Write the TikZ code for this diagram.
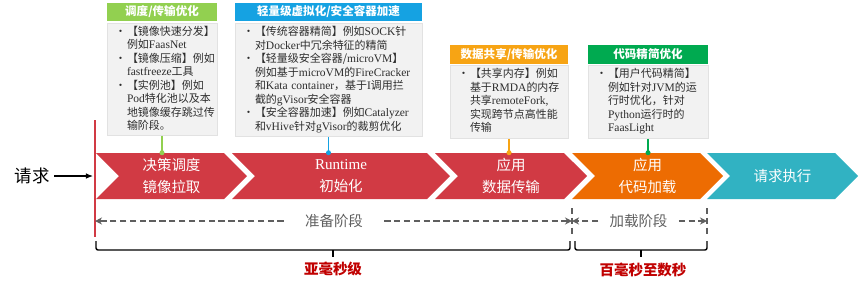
\documentclass[tikz,border=0pt]{standalone}
\usepackage{fontspec}
\setmainfont{Noto Sans CJK SC}
\newfontfamily\latinfont[Scale=1.05]{Liberation Serif}
\newcommand\en[1]{{\latinfont #1}}
\usepackage{xcolor}
\usepackage{tikz}
\usetikzlibrary{arrows.meta,positioning,shapes.symbols}
\newlength\pxu
\setlength\pxu{0.025cm}
\definecolor{ink}{RGB}{45,45,45}
\definecolor{stagered}{RGB}{209,58,68}
\definecolor{stageorange}{RGB}{237,108,2}
\definecolor{stageteal}{RGB}{49,178,194}
\definecolor{hgreen}{RGB}{146,208,80}
\definecolor{hblue}{RGB}{21,162,226}
\definecolor{horange}{RGB}{247,164,20}
\definecolor{hdkgreen}{RGB}{0,170,80}
\definecolor{cardgray}{RGB}{242,242,242}
\definecolor{cardedge}{RGB}{226,226,226}
\definecolor{phasegray}{RGB}{95,95,95}
\definecolor{spanred}{RGB}{192,0,0}
\tikzset{
  stage/.style={signal,signal to=east,signal from=west,signal pointer angle=90,
    minimum height=46\pxu,inner sep=0pt,text=white,align=center,
    font=\fontsize{10.3}{15.6}\selectfont},
  head/.style={minimum height=18\pxu,inner sep=0pt,text=white,
    font=\fontsize{8.2}{10}\selectfont\bfseries},
  card/.style={fill=cardgray,draw=cardedge,inner xsep=5\pxu,inner ysep=0pt,
    align=left,text=ink,font=\fontsize{7.8}{9.6}\selectfont},
  link/.style={line width=1.1pt},
  pin/.style={circle,inner sep=0pt,minimum size=5\pxu},
  phase/.style={phasegray,line width=0.9pt,dash pattern=on 4.5pt off 2.5pt},
  phaseend/.style={phase,-{Stealth[length=5pt,width=5pt]}},
  phaselabel/.style={text=phasegray,inner ysep=0pt,font=\fontsize{10.3}{12}\selectfont},
  span/.style={line width=1pt,rounded corners=1.5pt},
  spanlabel/.style={text=spanred,font=\fontsize{10.3}{12}\selectfont\bfseries}
}

\begin{document}
\begin{tikzpicture}[x=0.025cm,y=-0.025cm]
  \useasboundingbox (0,0) rectangle (859,286);

  \node[stage,fill=stagered,minimum width=151\pxu] (c1) at (171.5,176) {决策调度\\镜像拉取};
  \node[stage,fill=stagered,minimum width=218\pxu] (c2) at (341,176) {{\fontsize{10.2}{15.6}\selectfont\en{Runtime}}\\初始化};
  \node[stage,fill=stagered,minimum width=152\pxu] (c3) at (511,176) {应用\\数据传输};
  \node[stage,fill=stageorange,minimum width=151\pxu] (c4) at (647.5,176) {应用\\代码加载};
  \node[stage,fill=stageteal,minimum width=151\pxu] (c5) at (782.5,176) {请求执行};

  \coordinate (lineTop) at (95,120);
  \coordinate (lineBot) at (95,237);
  \draw[stagered,line width=1.4pt] (lineTop) -- (lineBot);
  \node[font=\fontsize{12.4}{14}\selectfont] (req) at (32,176) {请求};
  \draw[-{Latex[length=5pt,width=4pt]},line width=0.8pt,shorten >=2\pxu] (req.east) -- (req.east -| lineTop);

  \node[head,fill=hgreen,minimum width=110\pxu] (h1) at (162,12) {调度/传输优化};
  \node[card,text width=100\pxu,minimum height=112\pxu,below=2\pxu of h1] (b1) {%
    \begin{tabular}{@{\hspace{3\pxu}}p{12\pxu}@{}l@{}}
      • & 【镜像快速分发】\\
        & 例如\en{FaasNet}\\
      • & 【镜像压缩】例如\\
        & \en{fastfreeze}工具\\
      • & 【实例池】例如\\
        & \en{Pod}特化池以及本\\
        & 地镜像缓存跳过传\\
        & 输阶段。
    \end{tabular}};

  \node[head,fill=hblue,minimum width=187\pxu] (h2) at (328.5,12) {轻量级虚拟化/安全容器加速};
  \node[card,text width=177\pxu,minimum height=113\pxu,below=2\pxu of h2] (b2) {%
    \begin{tabular}{@{\hspace{3\pxu}}p{12\pxu}@{}l@{}}
      • & 【传统容器精简】例如\en{SOCK}针\\
        & 对\en{Docker}中冗余特征的精简\\
      • & 【轻量级安全容器/\en{microVM}】\\
        & 例如基于\en{microVM}的\en{FireCracker}\\
        & 和\en{Kata container}，基于\en{I}调用拦\\
        & 截的\en{gVisor}安全容器\\
      • & 【安全容器加速】例如\en{Catalyzer}\\
        & 和\en{vHive}针对\en{gVisor}的裁剪优化
    \end{tabular}};

  \node[head,fill=horange,minimum width=118\pxu,minimum height=19\pxu] (h3) at (509,54.5) {数据共享/传输优化};
  \node[card,text width=108\pxu,minimum height=73\pxu,below=1\pxu of h3] (b3) {%
    \begin{tabular}{@{\hspace{3\pxu}}p{12\pxu}@{}l@{}}
      • & 【共享内存】例如\\
        & 基于\en{RMDA}的内存\\
        & 共享\en{remoteFork,}\\
        & 实现跨节点高性能\\
        & 传输
    \end{tabular}};

  \node[head,fill=hdkgreen,minimum width=120\pxu,minimum height=19\pxu] (h4) at (648,54.5) {代码精简优化};
  \node[card,text width=110\pxu,minimum height=73\pxu,below=1\pxu of h4] (b4) {%
    \begin{tabular}{@{\hspace{3\pxu}}p{12\pxu}@{}l@{}}
      • & 【用户代码精简】\\
        & 例如针对\en{JVM}的运\\
        & 行时优化，针对\\
        & \en{Python}运行时的\\
        & \en{FaasLight}
    \end{tabular}};

  \draw[link,hgreen] (b1.south) -- (b1.south |- c1.north) node[pin,fill=hgreen] (p1) {};
  \draw[link,hblue] (b2.south) -- (b2.south |- c2.north) node[pin,fill=hblue] (p2) {};
  \draw[link,horange] (b3.south) -- (b3.south |- c3.north) node[pin,fill=horange] (p3) {};
  \draw[link,hdkgreen] (b4.south) -- (b4.south |- c4.north) node[pin,fill=hdkgreen] (p4) {};

  \coordinate (loadL) at (572,221);
  \coordinate (loadR) at (707,221);
  \node[phaselabel,inner xsep=21\pxu] (prep) at (334,221) {准备阶段};
  \node[phaselabel,inner xsep=11\pxu] (load) at (638.5,221) {加载阶段};
  \draw[phaseend] (prep.west) -- (prep.west -| lineTop);
  \draw[phaseend] (prep.east) -- (loadL);
  \draw[phaseend] (load.west) -- (loadL);
  \draw[phaseend] (load.east) -- (loadR);
  \draw[phase] (572,208) -- (572,234);
  \draw[phase] (707,208) -- (707,234);

  \draw[span] (96,241) -- (96,250) -- (570,250) -- (570,241);
  \draw[span] (333,250) -- (333,257);
  \draw[span] (575,241) -- (575,250) -- (707,250) -- (707,241);
  \draw[span] (641,250) -- (641,257);
  \node[spanlabel] (subms) at (333,269) {亚毫秒级};
  \node[spanlabel] (hundredms) at (643,270) {百毫秒至数秒};
\end{tikzpicture}
\end{document}
